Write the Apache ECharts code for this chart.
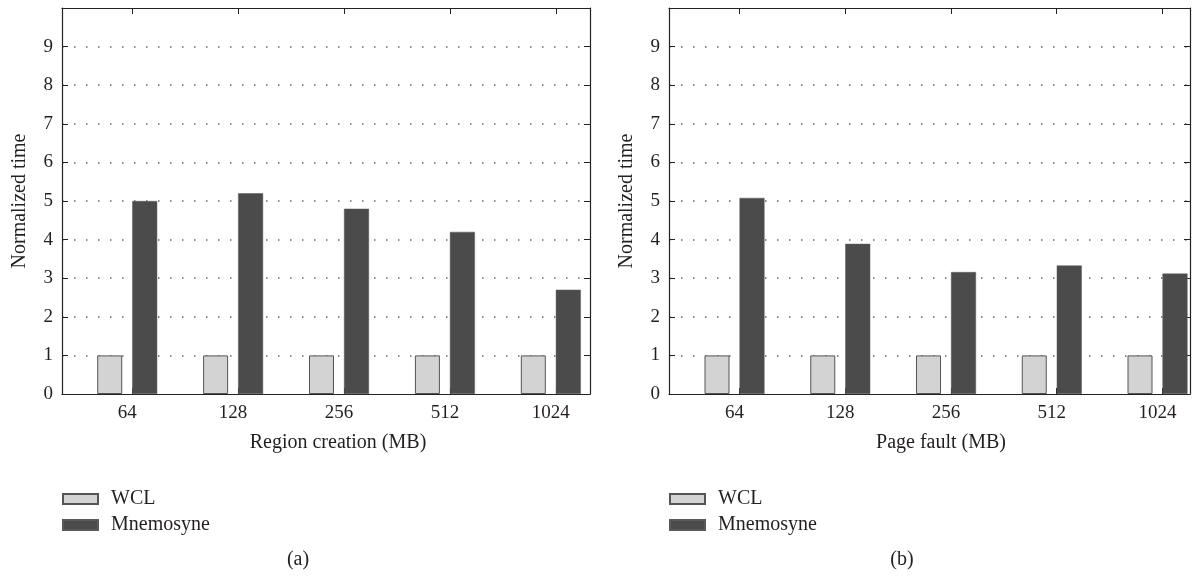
<!DOCTYPE html>
<html>
<head>
<meta charset="utf-8">
<script src="https://cdn.jsdelivr.net/npm/echarts@6/dist/echarts.min.js"></script>
<style>
html,body{margin:0;padding:0;background:#fff;}
#chart{width:1199px;height:576px;}
</style>
</head>
<body>
<div id="chart"></div>
<script>
const categories = ['64', '128', '256', '512', '1024'];
const seriesNames = ['WCL', 'Mnemosyne'];
const wclA = [1, 1, 1, 1, 1];
const mnemA = [5.0, 5.2, 4.8, 4.2, 2.7];
const wclB = [1, 1, 1, 1, 1];
const mnemB = [5.08, 3.89, 3.16, 3.33, 3.12];
const yTicks = [0, 1, 2, 3, 4, 5, 6, 7, 8, 9];
const xNameA = 'Region creation (MB)';
const xNameB = 'Page fault (MB)';
const yName = 'Normalized time';
const panelLabels = ['(a)', '(b)'];

const FONT = '"Liberation Serif", "DejaVu Serif", serif';
const TXT = '#231f20';
const idx = categories.map((c, i) => i);
const pairs = (vals) => vals.map((v, i) => [idx[i], v]);

function xAxes(gridIndex, min, max, name, namePad) {
  const tickVals = idx.map(i => i + 0.047);
  return [
    {
      type: 'value', gridIndex, min, max, position: 'bottom',
      name, nameLocation: 'middle', nameGap: 39,
      nameTextStyle: { fontFamily: FONT, fontSize: 20, color: TXT, padding: [0, 0, 0, namePad] },
      axisLine: { show: true, onZero: false, lineStyle: { color: '#222', width: 1.2 } },
      axisTick: { show: true, inside: true, length: 6, customValues: tickVals, lineStyle: { color: '#222' } },
      axisLabel: {
        customValues: idx, margin: 10, fontFamily: FONT, fontSize: 19, color: TXT,
        formatter: v => categories[Math.round(v)] ?? ''
      },
      splitLine: { show: false }
    },
    {
      type: 'value', gridIndex, min, max, position: 'top',
      axisLine: { show: true, onZero: false, lineStyle: { color: '#222', width: 1.2 } },
      axisTick: { show: true, inside: true, length: 6, customValues: tickVals, lineStyle: { color: '#222' } },
      axisLabel: { show: false },
      splitLine: { show: false }
    }
  ];
}

function yAxes(gridIndex) {
  return [
    {
      type: 'value', gridIndex, min: 0, max: 10, interval: 1, position: 'left',
      name: yName, nameLocation: 'middle', nameGap: 32, nameRotate: 90,
      nameTextStyle: { fontFamily: FONT, fontSize: 20, color: TXT },
      axisLine: { show: true, onZero: false, lineStyle: { color: '#222', width: 1.2 } },
      axisTick: { show: true, inside: true, length: 6, lineStyle: { color: '#222' } },
      axisLabel: {
        margin: 9, fontFamily: FONT, fontSize: 19, color: TXT,
        formatter: v => yTicks.includes(v) ? String(v) : ''
      },
      splitLine: { show: true, showMinLine: false, showMaxLine: false,
        lineStyle: { color: '#666', width: 1.5, type: [1.5, 10.5] } }
    },
    {
      type: 'value', gridIndex, min: 0, max: 10, interval: 1, position: 'right',
      axisLine: { show: true, onZero: false, lineStyle: { color: '#222', width: 1.2 } },
      axisTick: { show: true, inside: true, length: 6, lineStyle: { color: '#222' } },
      axisLabel: { show: false },
      splitLine: { show: false }
    }
  ];
}

const wclStyle = { color: '#d3d3d3', borderColor: '#555', borderWidth: 1 };
const mnemStyle = { color: '#4b4b4b', borderColor: '#5a5a5a', borderWidth: 0.5 };

function bars(xi, yi, wcl, mnem) {
  return [
    { name: seriesNames[0], type: 'bar', xAxisIndex: xi, yAxisIndex: yi, data: pairs(wcl),
      barWidth: 25, barGap: '40%', itemStyle: wclStyle, silent: true },
    { name: seriesNames[1], type: 'bar', xAxisIndex: xi, yAxisIndex: yi, data: pairs(mnem),
      barWidth: 25, barGap: '40%', itemStyle: mnemStyle, silent: true }
  ];
}

function legend(left) {
  return {
    left, top: 489, padding: 0, orient: 'vertical', itemWidth: 35, itemHeight: 10, itemGap: 6,
    icon: 'rect', data: seriesNames, selectedMode: false,
    textStyle: { fontFamily: FONT, fontSize: 20, color: TXT, padding: [0, 0, 0, 8] }
  };
}

const chart = echarts.init(document.getElementById('chart'), null, { renderer: 'canvas' });
chart.setOption({
  animation: false,
  backgroundColor: '#fff',
  grid: [
    { left: 62, top: 8, width: 528, height: 386, show: false },
    { left: 669, top: 8, width: 521, height: 386, show: false }
  ],
  xAxis: [
    ...xAxes(0, -0.6157, 4.370, xNameA, 24),
    ...xAxes(1, -0.6194, 4.3073, xNameB, 23)
  ],
  yAxis: [...yAxes(0), ...yAxes(1)],
  legend: [legend(62), legend(669)],
  series: [...bars(0, 0, wclA, mnemA), ...bars(2, 2, wclB, mnemB)],
  graphic: [
    { type: 'text', x: 298, y: 560, style: { text: panelLabels[0], font: '20px ' + FONT, fill: TXT, align: 'center', verticalAlign: 'middle' } },
    { type: 'text', x: 902, y: 560, style: { text: panelLabels[1], font: '20px ' + FONT, fill: TXT, align: 'center', verticalAlign: 'middle' } }
  ]
});
</script>
</body>
</html>
